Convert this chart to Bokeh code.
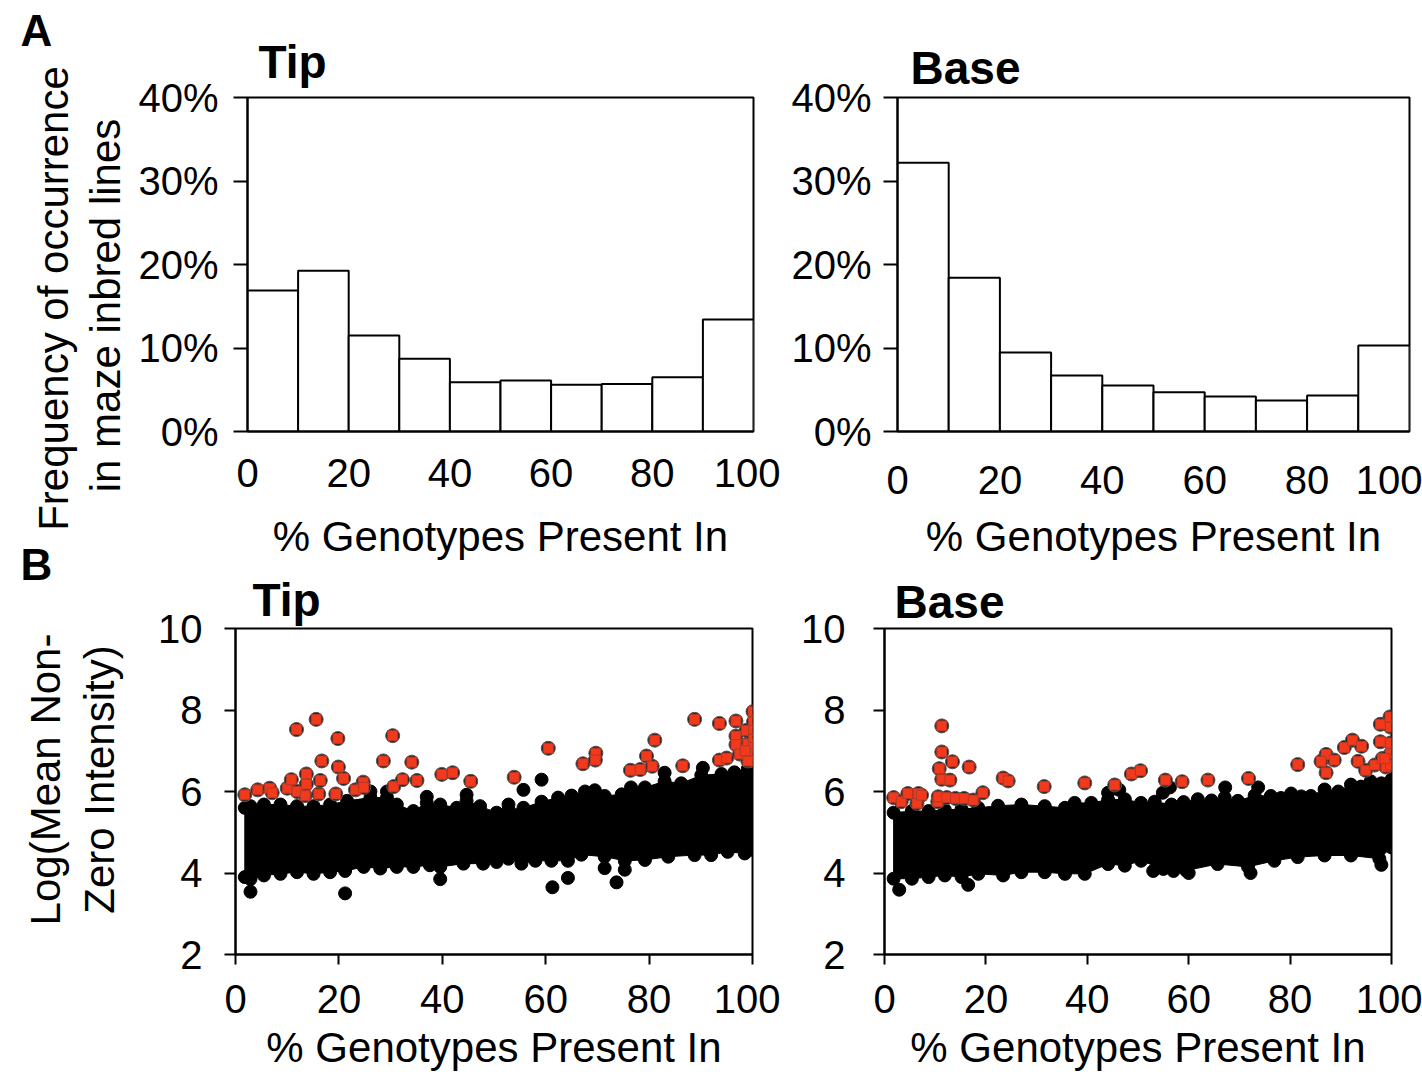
from bokeh.plotting import figure
from bokeh.layouts import column, row
from bokeh.models import Label, PrintfTickFormatter, FixedTicker, Range1d
from bokeh.embed import file_html
from bokeh.resources import INLINE

FONT = "Liberation Sans"

# ---------------- data ----------------
bin_edges = [0, 10, 20, 30, 40, 50, 60, 70, 80, 90, 100]
hist_tip = [16.9, 19.25, 11.5, 8.7, 5.9, 6.1, 5.6, 5.7, 6.5, 13.4]
hist_base = [32.2, 18.4, 9.45, 6.7, 5.5, 4.7, 4.2, 3.7, 4.3, 10.3]
hist_yticks = [0, 10, 20, 30, 40]
x_ticks = [0, 20, 40, 60, 80, 100]
scatter_yticks = [2, 4, 6, 8, 10]

# Tip: dense black cloud (outer dots read along its upper and lower edges)
tip_hi_x = [1.8, 2.9, 5.5, 8.7, 11.9, 15.1, 18.3, 21.6, 26.1, 29.3, 31.2, 34.4, 37.0, 39.6,
            42.8, 44.7, 47.3, 50.5, 52.8, 55.7, 59.2, 62.4, 65.0, 67.6, 69.5, 71.4, 74.7,
            76.5, 79.2, 83.0, 86.2, 90.1, 94.0, 96.5, 99.1, 100.3]
tip_hi_y = [5.6, 5.64, 5.68, 5.68, 5.64, 5.64, 5.68, 5.77, 5.85, 5.85, 5.68, 5.52, 5.72, 5.68,
            5.6, 5.77, 5.64, 5.48, 5.55, 5.6, 5.75, 5.85, 5.9, 6.0, 6.03, 5.89, 5.93,
            6.1, 6.1, 6.25, 6.2, 6.4, 6.43, 6.47, 6.56, 6.56]
tip_lo_x = [1.8, 2.9, 5.5, 8.7, 11.9, 15.1, 18.3, 21.2, 24.8, 28.0, 31.2, 34.4, 37.6, 39.6,
            44.1, 47.9, 50.5, 52.8, 55.3, 58.0, 61.1, 64.3, 66.9, 71.4, 75.3, 79.2, 83.7,
            88.8, 92.0, 95.2, 98.5, 100.3]
tip_lo_y = [3.9, 3.85, 3.94, 3.98, 4.02, 3.98, 4.02, 4.05, 4.15, 4.11, 4.15, 4.15, 4.19, 4.15,
            4.23, 4.23, 4.27, 4.35, 4.23, 4.3, 4.3, 4.3, 4.45, 4.4, 4.3, 4.32, 4.4,
            4.44, 4.44, 4.52, 4.48, 4.56]
tip_out_x = [2.9, 21.2, 39.6, 61.3, 64.3, 71.4, 73.7, 75.3, 26.1, 29.3, 37.0, 44.7, 83.0, 90.4,
             52.8, 55.7, 59.2]
tip_out_y = [3.54, 3.5, 3.85, 3.65, 3.88, 4.12, 3.77, 4.08, 6.0, 6.0, 5.87, 5.92, 6.46, 6.58,
             5.68, 6.04, 6.29]
tip_red_x = [1.8, 4.3, 6.6, 7.1, 10.0, 10.8, 11.8, 11.9, 13.5, 13.7, 13.7, 15.6, 16.1, 16.4,
             16.7, 19.4, 19.8, 19.9, 20.9, 23.2, 24.7, 24.8, 28.6, 30.4, 30.6, 32.3, 34.1,
             35.1, 39.9, 42.0, 45.5, 53.9, 60.5, 67.2, 69.7, 69.6, 76.4, 78.3, 79.5, 80.6,
             81.1, 86.5, 88.8, 93.6, 93.6, 95.0, 96.8, 96.8, 96.8, 97.5, 98.8, 99.1, 100.1,
             100.2, 100.2, 100.2, 100.2, 100.2, 100.2, 99.1, 98.6]
tip_red_y = [5.92, 6.04, 6.08, 5.97, 6.08, 6.29, 7.52, 6.0, 5.9, 6.43, 6.18, 7.77, 5.94, 6.27,
             6.75, 5.94, 7.3, 6.6, 6.32, 6.04, 6.23, 6.1, 6.75, 7.37, 6.12, 6.29, 6.72,
             6.27, 6.42, 6.46, 6.25, 6.35, 7.06, 6.68, 6.94, 6.77, 6.52, 6.54, 6.87, 6.62,
             7.26, 6.63, 7.77, 7.67, 6.77, 6.82, 7.73, 7.36, 7.15, 6.92, 7.5, 7.17, 7.96,
             7.71, 7.5, 7.29, 7.08, 6.92, 6.75, 6.75, 7.0]

# Base
base_hi_x = [1.8, 5.4, 8.7, 11.9, 15.2, 18.5, 22.4, 27.0, 31.6, 35.6, 37.5, 40.8, 44.1, 47.4,
             50.6, 53.3, 56.6, 59.0, 61.8, 64.5, 67.1, 69.7, 73.0, 76.2, 78.2, 80.2, 82.2, 84.1,
             86.8, 89.5, 92.0, 94.0, 95.9, 98.0, 100.0]
base_hi_y = [5.48, 5.52, 5.52, 5.55, 5.57, 5.6, 5.65, 5.68, 5.64, 5.6, 5.72, 5.72, 5.8, 5.81,
             5.72, 5.75, 5.68, 5.74, 5.81, 5.78, 5.85, 5.77, 5.9, 5.89, 5.84, 5.95, 5.88, 5.89,
             6.05, 6.0, 6.17, 6.12, 6.25, 6.2, 6.29]
base_lo_x = [1.8, 5.4, 8.7, 11.9, 15.2, 18.5, 23.4, 27.0, 31.6, 35.6, 39.5, 44.1, 47.4, 50.6,
             55.0, 59.5, 65.7, 71.7, 76.9, 81.5, 86.8, 92.0, 97.6, 100.0]
base_lo_y = [3.86, 3.86, 3.9, 3.94, 3.9, 3.98, 3.94, 4.02, 4.02, 3.98, 3.98, 4.22, 4.18, 4.3,
             4.1, 4.06, 4.22, 4.15, 4.3, 4.39, 4.43, 4.43, 4.35, 4.63]
base_out_x = [2.9, 16.5, 53.0, 57.0, 60.0, 72.2, 98.0, 44.1, 54.9, 56.3, 67.2, 73.7, 46.3]
base_out_y = [3.59, 3.71, 4.05, 4.05, 4.0, 4.0, 4.2, 5.97, 5.97, 6.1, 6.1, 6.1, 6.04]
base_red_x = [1.8, 3.3, 4.6, 6.4, 6.7, 7.3, 10.5, 10.6, 11.3, 11.3, 10.8, 11.3, 12.9, 13.4,
              12.3, 14.0, 15.7, 16.7, 17.5, 19.4, 23.4, 24.4, 31.5, 39.5, 45.4, 48.7, 50.5,
              55.4, 58.7, 63.8, 71.8, 81.5, 87.1, 86.1, 87.1, 88.7, 90.7, 92.3, 94.1, 93.4,
              94.9, 96.7, 97.8, 97.8, 98.2, 98.9, 99.7, 99.8, 99.8, 99.8, 99.8, 98.7]
base_red_y = [5.85, 5.75, 5.95, 5.71, 5.95, 5.91, 5.75, 5.87, 7.61, 6.97, 6.56, 6.3, 6.28, 6.73,
              5.85, 5.83, 5.83, 6.6, 5.79, 5.97, 6.33, 6.26, 6.12, 6.21, 6.16, 6.43, 6.51,
              6.28, 6.24, 6.28, 6.32, 6.66, 6.91, 6.74, 6.46, 6.77, 7.08, 7.26, 7.11, 6.74,
              6.52, 6.65, 7.65, 7.22, 6.81, 6.6, 7.83, 7.58, 7.19, 6.93, 6.65, 6.81]

RED = "#f2391c"
TICK_SIZE = "40px"
AXIS_SIZE = "42px"
TITLE_SIZE = "46px"


def style_axes(p, title_offset, title_standoff):
    p.xgrid.visible = False
    p.ygrid.visible = False
    p.outline_line_color = "black"
    p.outline_line_width = 2
    p.outline_line_alpha = 1.0
    p.title.text_font = FONT
    p.title.text_font_size = TITLE_SIZE
    p.title.text_font_style = "bold"
    p.title.text_color = "black"
    p.title.align = "left"
    p.title.offset = title_offset
    p.title.standoff = title_standoff
    for ax in (p.xaxis[0], p.yaxis[0]):
        ax.axis_line_width = 2
        ax.axis_line_color = "black"
        ax.major_tick_line_width = 2
        ax.major_tick_line_color = "black"
        ax.minor_tick_out = 0
        ax.minor_tick_in = 0
        ax.major_tick_in = 0
        ax.major_label_text_font = FONT
        ax.major_label_text_font_size = TICK_SIZE
        ax.major_label_text_color = "black"
        ax.axis_label_text_font = FONT
        ax.axis_label_text_font_size = AXIS_SIZE
        ax.axis_label_text_font_style = "normal"
        ax.axis_label_text_color = "black"


def hist_fig(values, title, width, height, bl, br, bt, bb, lab_standoff, title_standoff,
             y_standoff, t_off, t_stand):
    p = figure(width=width, height=height, title=title,
               x_range=Range1d(0, 100), y_range=Range1d(0, 40),
               output_backend="svg", toolbar_location=None,
               min_border_left=bl, min_border_right=br, min_border_top=bt, min_border_bottom=bb)
    p.quad(left=bin_edges[:-1], right=bin_edges[1:], bottom=0, top=values,
           fill_color="white", line_color="black", line_width=2)
    style_axes(p, t_off, t_stand)
    p.xaxis.ticker = FixedTicker(ticks=x_ticks)
    p.xaxis.major_tick_out = 0
    p.xaxis.major_label_standoff = lab_standoff
    p.xaxis.axis_label = "% Genotypes Present In"
    p.xaxis.axis_label_standoff = title_standoff
    p.yaxis.ticker = FixedTicker(ticks=hist_yticks)
    p.yaxis.formatter = PrintfTickFormatter(format="%d%%")
    p.yaxis.major_tick_out = 14
    p.yaxis.major_label_standoff = y_standoff
    return p


def scatter_fig(hx, hy, lx, ly, ox, oy, rx, ry, title, width, height, bl, br, bt, bb,
                y_standoff, t_off, t_stand):
    p = figure(width=width, height=height, title=title,
               x_range=Range1d(0, 100), y_range=Range1d(2, 10),
               output_backend="svg", toolbar_location=None,
               min_border_left=bl, min_border_right=br, min_border_top=bt, min_border_bottom=bb)
    # dense core of the cloud between its read upper and lower edges
    p.patch(x=hx + lx[::-1], y=hy + ly[::-1], fill_color="black", line_color="black")
    p.scatter(hx, hy, size=13, marker="circle", fill_color="black", line_color="black")
    p.scatter(lx, ly, size=13, marker="circle", fill_color="black", line_color="black")
    p.scatter(ox, oy, size=13, marker="circle", fill_color="black", line_color="black")
    p.scatter(rx, ry, size=14, marker="circle", fill_color="#222222", line_color="#555555")
    p.scatter(rx, ry, size=10, marker="square", fill_color=RED, line_color="#b03a2a",
              line_width=1)
    style_axes(p, t_off, t_stand)
    p.xaxis.ticker = FixedTicker(ticks=x_ticks)
    p.xaxis.major_tick_out = 10
    p.xaxis.major_label_standoff = 20
    p.xaxis.axis_label = "% Genotypes Present In"
    p.xaxis.axis_label_standoff = 8
    p.yaxis.ticker = FixedTicker(ticks=scatter_yticks)
    p.yaxis.major_tick_out = 11
    p.yaxis.major_label_standoff = y_standoff
    return p


# ---------------- left strip: panel letters and y-axis titles ----------------
STRIP_W = 130
strip = figure(width=STRIP_W, height=1076, x_range=Range1d(0, STRIP_W), y_range=Range1d(0, 1076),
               output_backend="svg", toolbar_location=None, min_border=0)
strip.axis.visible = False
strip.xgrid.visible = False
strip.ygrid.visible = False
strip.outline_line_color = None


def slabel(x, y_from_top, text, size, bold=False, angle=0, align="left"):
    strip.add_layout(Label(x=x, y=1076 - y_from_top, x_units="data", y_units="data", text=text,
                           text_font=FONT, text_font_size=size,
                           text_font_style="bold" if bold else "normal",
                           text_baseline="middle", text_align=align,
                           angle=angle, angle_units="deg", text_color="black"))


slabel(20, 30, "A", "44px", bold=True)
slabel(53, 298, "Frequency of occurrence", AXIS_SIZE, angle=90, align="center")
slabel(105, 305, "in maze inbred lines", AXIS_SIZE, angle=90, align="center")
slabel(20, 564, "B", "44px", bold=True)
slabel(45, 779, "Log(Mean Non-", AXIS_SIZE, angle=90, align="center")
slabel(99, 779, "Zero Intensity)", AXIS_SIZE, angle=90, align="center")

# ---------------- panel A ----------------
ROW1 = 566
a1 = hist_fig(hist_tip, "Tip", 780 - STRIP_W, ROW1, 247 - STRIP_W, 27, 95, ROW1 - 431,
              27, 23, 15, 11, 20)
a2 = hist_fig(hist_base, "Base", 642, ROW1, 117, 13, 97, ROW1 - 431,
              34, 16, 12, 13, 8)

# ---------------- panel B ----------------
ROW2 = 1076 - ROW1
b1 = scatter_fig(tip_hi_x, tip_hi_y, tip_lo_x, tip_lo_y, tip_out_x, tip_out_y,
                 tip_red_x, tip_red_y, "Tip", 780 - STRIP_W, ROW2, 235 - STRIP_W, 28,
                 628 - ROW1, 122, 22, 17, 6)
b2 = scatter_fig(base_hi_x, base_hi_y, base_lo_x, base_lo_y, base_out_x, base_out_y,
                 base_red_x, base_red_y, "Base", 642, ROW2, 104, 31,
                 628 - ROW1, 122, 28, 10, 2)

layout = row(strip, column(row(a1, a2), row(b1, b2)))

open("out.html", "w").write(file_html(layout, INLINE))
